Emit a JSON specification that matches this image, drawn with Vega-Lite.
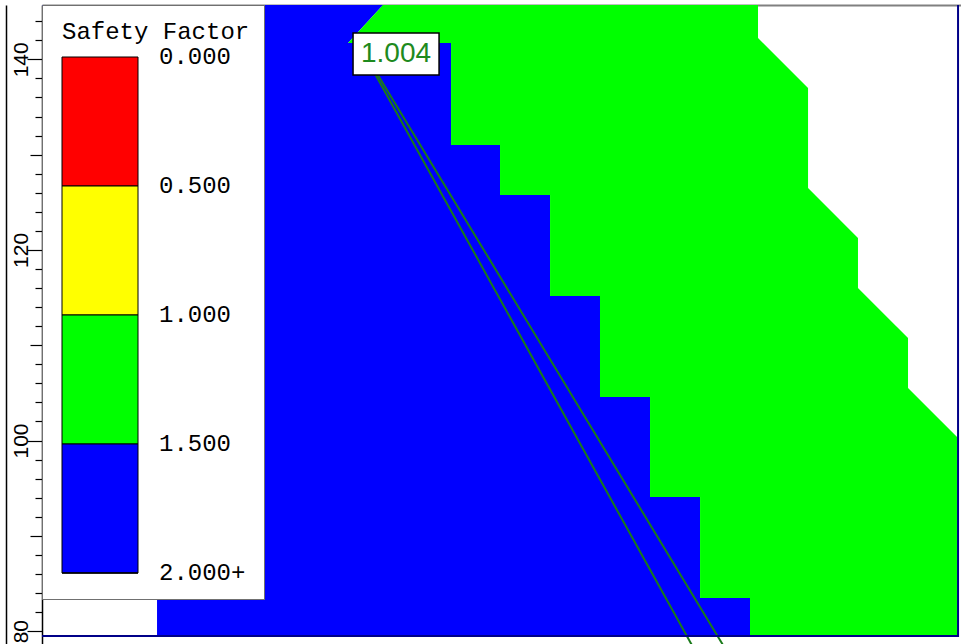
{
  "$schema": "https://vega.github.io/schema/vega-lite/v6.json",
  "autosize": {"type": "none"},
  "padding": {"left": 42, "top": 5, "right": 0, "bottom": 0},
  "width": 919,
  "height": 700,
  "background": "white",
  "config": {"view": {"stroke": null}},
  "datasets": {
    "zones": [
      {"zone": "blue", "fs": 2.0, "i": 1, "x": 0, "y": 145.7},
      {"zone": "blue", "fs": 2.0, "i": 2, "x": 35.78, "y": 145.7},
      {"zone": "blue", "fs": 2.0, "i": 3, "x": 32.11, "y": 141.71},
      {"zone": "blue", "fs": 2.0, "i": 4, "x": 42.92, "y": 141.71},
      {"zone": "blue", "fs": 2.0, "i": 5, "x": 42.92, "y": 131.01},
      {"zone": "blue", "fs": 2.0, "i": 6, "x": 48.06, "y": 131.01},
      {"zone": "blue", "fs": 2.0, "i": 7, "x": 48.06, "y": 125.76},
      {"zone": "blue", "fs": 2.0, "i": 8, "x": 53.31, "y": 125.76},
      {"zone": "blue", "fs": 2.0, "i": 9, "x": 53.31, "y": 115.16},
      {"zone": "blue", "fs": 2.0, "i": 10, "x": 58.55, "y": 115.16},
      {"zone": "blue", "fs": 2.0, "i": 11, "x": 58.55, "y": 104.57},
      {"zone": "blue", "fs": 2.0, "i": 12, "x": 63.8, "y": 104.57},
      {"zone": "blue", "fs": 2.0, "i": 13, "x": 63.8, "y": 94.07},
      {"zone": "blue", "fs": 2.0, "i": 14, "x": 69.05, "y": 94.07},
      {"zone": "blue", "fs": 2.0, "i": 15, "x": 69.05, "y": 83.48},
      {"zone": "blue", "fs": 2.0, "i": 16, "x": 74.29, "y": 83.48},
      {"zone": "blue", "fs": 2.0, "i": 17, "x": 74.29, "y": 79.49},
      {"zone": "blue", "fs": 2.0, "i": 18, "x": 12.07, "y": 79.49},
      {"zone": "blue", "fs": 2.0, "i": 19, "x": 12.07, "y": 83.48},
      {"zone": "blue", "fs": 2.0, "i": 20, "x": 0, "y": 95.0},
      {"zone": "green", "fs": 1.25, "i": 1, "x": 35.78, "y": 145.7},
      {"zone": "green", "fs": 1.25, "i": 2, "x": 75.13, "y": 145.7},
      {"zone": "green", "fs": 1.25, "i": 3, "x": 75.13, "y": 142.24},
      {"zone": "green", "fs": 1.25, "i": 4, "x": 80.38, "y": 136.99},
      {"zone": "green", "fs": 1.25, "i": 5, "x": 80.38, "y": 126.5},
      {"zone": "green", "fs": 1.25, "i": 6, "x": 85.62, "y": 121.25},
      {"zone": "green", "fs": 1.25, "i": 7, "x": 85.62, "y": 116.0},
      {"zone": "green", "fs": 1.25, "i": 8, "x": 90.87, "y": 110.76},
      {"zone": "green", "fs": 1.25, "i": 9, "x": 90.87, "y": 105.51},
      {"zone": "green", "fs": 1.25, "i": 10, "x": 96.12, "y": 100.26},
      {"zone": "green", "fs": 1.25, "i": 11, "x": 96.12, "y": 79.49},
      {"zone": "green", "fs": 1.25, "i": 12, "x": 74.29, "y": 79.49},
      {"zone": "green", "fs": 1.25, "i": 13, "x": 74.29, "y": 83.48},
      {"zone": "green", "fs": 1.25, "i": 14, "x": 69.05, "y": 83.48},
      {"zone": "green", "fs": 1.25, "i": 15, "x": 69.05, "y": 94.07},
      {"zone": "green", "fs": 1.25, "i": 16, "x": 63.8, "y": 94.07},
      {"zone": "green", "fs": 1.25, "i": 17, "x": 63.8, "y": 104.57},
      {"zone": "green", "fs": 1.25, "i": 18, "x": 58.55, "y": 104.57},
      {"zone": "green", "fs": 1.25, "i": 19, "x": 58.55, "y": 115.16},
      {"zone": "green", "fs": 1.25, "i": 20, "x": 53.31, "y": 115.16},
      {"zone": "green", "fs": 1.25, "i": 21, "x": 53.31, "y": 125.76},
      {"zone": "green", "fs": 1.25, "i": 22, "x": 48.06, "y": 125.76},
      {"zone": "green", "fs": 1.25, "i": 23, "x": 48.06, "y": 131.01},
      {"zone": "green", "fs": 1.25, "i": 24, "x": 42.92, "y": 131.01},
      {"zone": "green", "fs": 1.25, "i": 25, "x": 42.92, "y": 141.71},
      {"zone": "green", "fs": 1.25, "i": 26, "x": 32.11, "y": 141.71}
    ],
    "slip": [
      {"surface": "a", "i": 1, "x": 32.97, "y": 142.03},
      {"surface": "a", "i": 2, "x": 71.39, "y": 72.77},
      {"surface": "b", "i": 1, "x": 33.02, "y": 142.03},
      {"surface": "b", "i": 2, "x": 74.95, "y": 72.77}
    ],
    "boundary": [
      {"i": 1, "x": 96.12, "y": 145.7},
      {"i": 2, "x": 96.12, "y": 79.49},
      {"i": 3, "x": 0, "y": 79.49}
    ],
    "critical": [
      {"x": 37.15, "y": 140.56, "fs": 1.004}
    ]
  },
  "layer": [
    {
      "data": {"name": "zones"},
      "mark": {"type": "line", "filled": true, "strokeWidth": 0},
      "encoding": {
        "x": {
          "field": "x", "type": "quantitative",
          "scale": {"domain": [0, 96.43], "nice": false, "zero": false},
          "axis": {"orient": "top", "title": null, "labels": false, "ticks": false, "grid": false, "domainColor": "#808080", "domainWidth": 2}
        },
        "y": {
          "field": "y", "type": "quantitative",
          "scale": {"domain": [72.25, 145.7], "nice": false, "zero": false},
          "axis": {
            "orient": "left", "title": null, "grid": false,
            "values": [74, 76, 78, 80, 82, 84, 86, 88, 90, 92, 94, 96, 98, 100, 102, 104, 106, 108, 110, 112, 114, 116, 118, 120, 122, 124, 126, 128, 130, 132, 134, 136, 138, 140, 142, 144],
            "labelExpr": "datum.value % 20 === 0 ? datum.label : ''",
            "labelAngle": -90, "labelAlign": "center", "labelBaseline": "alphabetic",
            "labelFont": "Liberation Sans", "labelFontSize": 21, "labelColor": "black", "labelPadding": 0,
            "tickSize": {"condition": [{"test": "datum.value % 20 === 0", "value": 15}, {"test": "datum.value % 10 === 0", "value": 12}], "value": 7},
            "tickColor": "black", "tickWidth": 1.2,
            "domainColor": "black", "domainWidth": 1.5
          }
        },
        "order": {"field": "i", "type": "quantitative"},
        "detail": {"field": "zone", "type": "nominal"},
        "color": {
          "field": "fs", "type": "quantitative",
          "scale": {"type": "threshold", "domain": [0.5, 1, 1.5], "range": ["#ff0000", "#ffff00", "#00ff00", "#0000ff"]},
          "legend": {
            "type": "gradient",
            "direction": "vertical",
            "orient": "top-left",
            "offset": 0,
            "title": "Safety Factor",
            "titleFont": "Liberation Mono", "titleFontSize": 24, "titleFontWeight": "normal", "titleColor": "black", "titlePadding": 14, "titleLimit": 400,
            "gradientLength": 516, "gradientThickness": 76,
            "values": [0, 0.5, 1, 1.5, 2],
            "labelExpr": "datum.value >= 2 ? '2.000+' : format(datum.value, '.3f')",
            "labelFont": "Liberation Mono", "labelFontSize": 24, "labelColor": "black", "labelOffset": 21, "labelLimit": 300,
            "padding": 14,
            "fillColor": "white", "strokeColor": "#707070", "strokeWidth": 1.5,
            "encode": {
              "title": {"update": {"dx": {"value": 6}, "dy": {"value": 1}}},
              "gradient": {"update": {"x": {"value": 6}, "y": {"signal": "datum.perc * 516"}, "y2": {"signal": "datum.perc2 * 516"}, "stroke": {"value": "black"}, "strokeWidth": {"value": 1}}},
              "labels": {"update": {"x": {"value": 103}, "y": {"signal": "datum.perc * 516"}, "baseline": {"value": "middle"}}}
            }
          }
        }
      }
    },
    {
      "data": {"name": "slip"},
      "mark": {"type": "line", "color": "#1a7a1a", "strokeWidth": 2},
      "encoding": {
        "x": {"field": "x", "type": "quantitative"},
        "y": {"field": "y", "type": "quantitative", "axis": null},
        "order": {"field": "i", "type": "quantitative"},
        "detail": {"field": "surface", "type": "nominal"}
      }
    },
    {
      "data": {"name": "boundary"},
      "mark": {"type": "line", "color": "#000088", "strokeWidth": 2},
      "encoding": {
        "x": {"field": "x", "type": "quantitative"},
        "y": {
          "field": "y", "type": "quantitative",
          "axis": {"orient": "left", "offset": 36, "title": null, "labels": false, "ticks": false, "grid": false, "domainColor": "black", "domainWidth": 1.5}
        },
        "order": {"field": "i", "type": "quantitative"}
      }
    },
    {
      "data": {"name": "critical"},
      "mark": {"type": "point", "shape": "M-1,-0.488H1V0.488H-1Z", "size": 7396, "filled": true, "fill": "white", "stroke": "black", "strokeWidth": 1.5, "opacity": 1},
      "encoding": {
        "x": {"field": "x", "type": "quantitative"},
        "y": {"field": "y", "type": "quantitative", "axis": null}
      }
    },
    {
      "data": {"name": "critical"},
      "mark": {"type": "text", "font": "Liberation Sans", "fontSize": 28, "color": "#1e8a1e", "align": "center", "baseline": "middle"},
      "encoding": {
        "x": {"field": "x", "type": "quantitative"},
        "y": {"field": "y", "type": "quantitative", "axis": null},
        "text": {"field": "fs", "type": "quantitative", "format": ".3f"}
      }
    }
  ],
  "resolve": {"axis": {"y": "independent"}}
}
